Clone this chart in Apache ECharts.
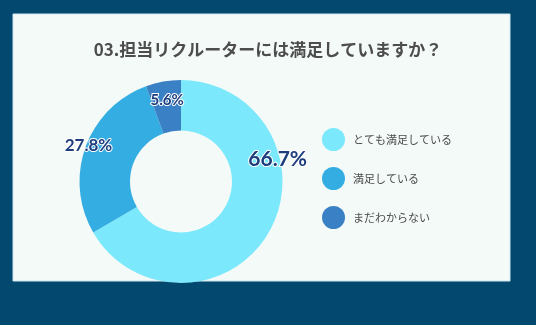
<!DOCTYPE html>
<html><head><meta charset="utf-8">
<script src="https://cdn.jsdelivr.net/npm/echarts@6/dist/echarts.min.js"></script>
<style>html,body{margin:0;padding:0;background:#03496f;}#c{width:536px;height:325px;}</style>
</head><body><div id="c"></div>
<script>
const titleText = '03.担当リクルーターには満足していますか？';
const categories = ['とても満足している', '満足している', 'まだわからない'];
const values = [66.7, 27.8, 5.6];
const colors = ['#7ce8fc', '#33ade2', '#3a80c5'];
const labelSizes = [21, 17, 15];
const labelOffsets = [[28, -62], [-18, -9], [0, -3]];

const chart = echarts.init(document.getElementById('c'), null, {renderer: 'canvas'});
const jp = '"Noto Sans CJK JP", "Noto Sans", sans-serif';
chart.setOption({
  backgroundColor: '#03496f',
  animation: false,
  graphic: [{
    type: 'rect', z: 0,
    shape: {x: 13, y: 14, width: 497, height: 267},
    style: {fill: '#f4faf8', stroke: '#cfe6f0', lineWidth: 1}
  }],
  title: {
    text: titleText, left: 'center', top: 36,
    textStyle: {fontFamily: jp, fontSize: 17, fontWeight: 'bold', color: '#4d4d4d'}
  },
  legend: {
    orient: 'vertical', left: 322, top: 128, padding: 0,
    itemWidth: 23, itemHeight: 23, itemGap: 16, icon: 'circle',
    textStyle: {fontFamily: jp, fontSize: 11, color: '#4a4a4a', padding: [0, 0, 0, 3]},
    data: categories
  },
  series: [{
    type: 'pie', z: 2,
    center: [181, 181.5], radius: [51, 101.5],
    startAngle: 90, clockwise: true,
    avoidLabelOverlap: false,
    labelLine: {show: false},
    emphasis: {disabled: true},
    data: categories.map((n, i) => ({
      name: n, value: values[i],
      itemStyle: {color: colors[i]},
      label: {
        show: true, position: 'inside',
        formatter: values[i].toFixed(1) + '%',
        fontFamily: 'Lato, "Noto Sans", sans-serif', fontWeight: 'bold',
        fontSize: labelSizes[i], color: '#1d3d7c',
        textBorderColor: '#ffffff', textBorderWidth: 2,
        offset: labelOffsets[i]
      }
    }))
  }]
});
</script></body></html>
